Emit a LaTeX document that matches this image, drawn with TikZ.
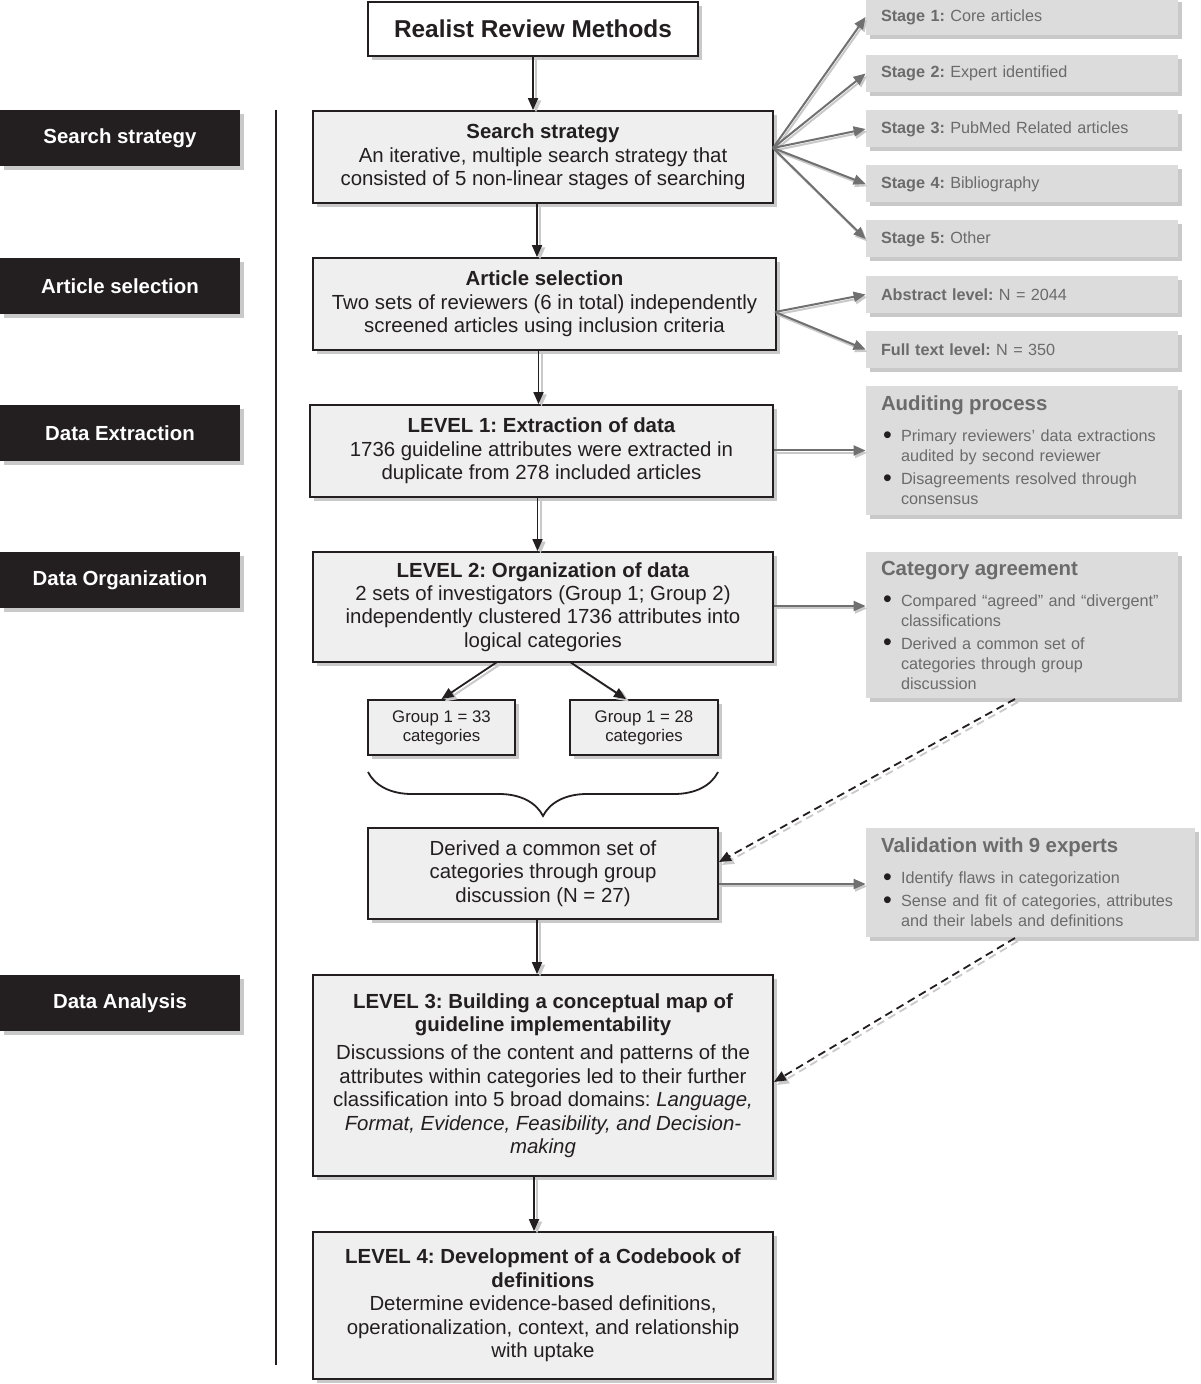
\documentclass[tikz,border=0pt]{standalone}
\usepackage{fontspec}
\setmainfont{Liberation Sans}
\usetikzlibrary{arrows.meta,shadows,decorations.pathreplacing}
\frenchspacing
\definecolor{ink}{HTML}{231F20}
\definecolor{boxfill}{HTML}{EFEFEF}
\definecolor{sidefill}{HTML}{DCDCDD}
\definecolor{sidetext}{HTML}{6B6B6B}
\definecolor{shade}{HTML}{C9C9C9}
\definecolor{arrowgray}{HTML}{707070}
\DeclareRobustCommand\nohyph{\hyphenpenalty=10000\relax}
\newcommand\bitem[1]{\par\hangindent=10pt\hangafter=1\hspace*{1pt}\makebox[9pt][l]{\textcolor{ink}{\fontsize{12.5}{10}\selectfont\raisebox{-0.6pt}{\textbullet}}}#1\par}
\tikzset{
  myshadow/.style={drop shadow={shadow xshift=2pt, shadow yshift=-2pt, fill=shade, opacity=1}},
  mainbox/.style={draw=ink, line width=0.9pt, fill=boxfill, align=center, text=ink,
    font=\fontsize{10.2}{11.7}\selectfont, inner sep=0pt, myshadow},
  sidebox/.style={fill=sidefill, text=sidetext, inner xsep=7.5pt, inner ysep=0pt,
    align=left, font=\fontsize{8.1}{10}\selectfont\nohyph, myshadow},
  labelbox/.style={fill=ink, text=white, font=\bfseries\fontsize{10.2}{11.7}\selectfont,
    minimum width=120pt, minimum height=28pt, inner sep=0pt, myshadow},
  flow/.style={-{Triangle[length=6pt,width=5pt]}, line width=0.9pt, draw=ink,
    preaction={draw=shade, line width=1pt, transform canvas={xshift=1.5pt,yshift=-1.2pt}}},
  sideflow/.style={-{Triangle[length=6pt,width=5pt]}, line width=1pt, draw=arrowgray,
    preaction={draw=shade, line width=1pt, transform canvas={xshift=0.8pt,yshift=-1.2pt}}},
  dashflow/.style={-{Triangle[length=6pt,width=5pt]}, line width=0.9pt, draw=ink,
    dash pattern=on 4pt off 2.5pt,
    preaction={draw=shade, line width=0.9pt, dash pattern=on 4pt off 2.5pt,
      transform canvas={xshift=1.5pt,yshift=-1.5pt}}},
}
\newcommand\sidehead[1]{{\bfseries\fontsize{10.2}{12}\selectfont #1}\par\vspace{5.5pt}}
\begin{document}
\begin{tikzpicture}[x=0.5pt,y=-0.5pt]
\useasboundingbox (0,0) rectangle (1200,1384);

% timeline
\draw[ink, line width=0.9pt] (276,110) -- (276,1365);

% left labels
\node[labelbox] (lsearch) at (120,138) {Search strategy};
\node[labelbox] (lart) at (120,286) {Article selection};
\node[labelbox] (lext) at (120,433) {Data Extraction};
\node[labelbox] (lorg) at (120,580) {Data Organization};
\node[labelbox] (lana) at (120,1003) {Data Analysis};

% main column
\node[mainbox, fill=white, minimum width=165pt, minimum height=27pt,
      font=\bfseries\fontsize{12.2}{14}\selectfont] (title) at (533,29) {Realist Review Methods};
\node[mainbox, minimum width=230pt, minimum height=46pt] (search) at (543,157)
  {\textbf{Search strategy}\\An iterative, multiple search strategy that\\consisted of 5 non-linear stages of searching};
\node[mainbox, minimum width=231.5pt, minimum height=46pt] (art) at (544.5,304)
  {\textbf{Article selection}\\Two sets of reviewers (6 in total) independently\\screened articles using inclusion criteria};
\node[mainbox, minimum width=231.5pt, minimum height=46pt] (lv1) at (541.5,451)
  {\textbf{LEVEL 1: Extraction of data}\\1736 guideline attributes were extracted in\\duplicate from 278 included articles};
\node[mainbox, minimum width=230pt, minimum height=55pt] (lv2) at (543,607)
  {\textbf{LEVEL 2: Organization of data}\\2 sets of investigators (Group 1; Group 2)\\independently clustered 1736 attributes into\\logical categories};
\node[mainbox, minimum width=73.5pt, minimum height=27.5pt, font=\fontsize{8.4}{9.6}\selectfont] (g1) at (441.5,727.5)
  {Group 1 = 33\\categories};
\node[mainbox, minimum width=74pt, minimum height=27.5pt, font=\fontsize{8.4}{9.6}\selectfont] (g2) at (644,727.5)
  {Group 1 = 28\\categories};
\node[mainbox, minimum width=175pt, minimum height=45.5pt] (der) at (543,873.5)
  {Derived a common set of\\categories through group\\discussion (N = 27)};
\node[mainbox, minimum width=230pt, minimum height=100.5pt] (lv3) at (543,1075.5)
  {\textbf{LEVEL 3: Building a conceptual map of}\\\textbf{guideline implementability}\\[2.5pt]Discussions of the content and patterns of the\\attributes within categories led to their further\\classification into 5 broad domains: \textit{Language,}\\\textit{Format, Evidence, Feasibility, and Decision-}\\\textit{making}};
\node[mainbox, minimum width=230pt, minimum height=73.5pt] (lv4) at (543,1305.5)
  {\textbf{LEVEL 4: Development of a Codebook of}\\\textbf{definitions}\\Determine evidence-based definitions,\\operationalization, context, and relationship\\with uptake};

% brace
\draw[ink, line width=0.9pt, decorate, decoration={brace, amplitude=22pt, aspect=0.5}]
  (718,772) -- (368,772);

% right column
\node[sidebox, text width=141pt, minimum height=18.5pt] (s1) at (1022,17) {\textbf{Stage 1:} Core articles};
\node[sidebox, text width=141pt, minimum height=18.5pt] (s2) at (1022,73.5) {\textbf{Stage 2:} Expert identified};
\node[sidebox, text width=141pt, minimum height=18.5pt] (s3) at (1022,129) {\textbf{Stage 3:} PubMed Related articles};
\node[sidebox, text width=141pt, minimum height=18.5pt] (s4) at (1022,184) {\textbf{Stage 4:} Bibliography};
\node[sidebox, text width=141pt, minimum height=18.5pt] (s5) at (1022,239) {\textbf{Stage 5:} Other};
\node[sidebox, text width=141pt, minimum height=18.5pt] (abs) at (1022,294.5) {\textbf{Abstract level:} N = 2044};
\node[sidebox, text width=141pt, minimum height=18.5pt] (full) at (1022,349.5) {\textbf{Full text level:} N = 350};
\node[sidebox, text width=141pt, minimum height=64.5pt] (aud) at (1022,450.5)
  {\sidehead{Auditing process}%
   \bitem{Primary reviewers' data extractions audited by second reviewer}\vspace{1.5pt}%
   \bitem{Disagreements resolved through consensus}};
\node[sidebox, text width=141pt, minimum height=73pt] (cat) at (1022,625)
  {\sidehead{Category agreement}%
   \bitem{Compared “agreed” and “divergent” classifications}\vspace{1.5pt}%
   \bitem{Derived a common set of categories through group discussion}};
\node[sidebox, text width=149.5pt, minimum height=54.5pt] (val) at (1030.5,882.5)
  {\sidehead{Validation with 9 experts}%
   \bitem{Identify flaws in categorization}\vspace{1.5pt}%
   \bitem{Sense and fit of categories, attributes and their labels and definitions}};

% main flow arrows
\draw[flow] (title.south) -- (title.south |- search.north);
\draw[flow] ([xshift=-3pt]search.south) -- ([xshift=-3pt]search.south |- art.north);
\draw[flow] ([xshift=-3pt]art.south) -- ([xshift=-3pt]art.south |- lv1.north);
\draw[flow] ([xshift=-2pt]lv1.south) -- ([xshift=-2pt]lv1.south |- lv2.north);
\coordinate (l2a) at (497,662);
\coordinate (l2b) at (570,662);
\draw[flow] (l2a) -- (g1.north);
\draw[flow] (l2b) -- ([xshift=-9pt]g2.north);
\draw[flow] ([xshift=-3pt]der.south) -- ([xshift=-3pt]der.south |- lv3.north);
\draw[flow] ([xshift=-4.5pt]lv3.south) -- ([xshift=-4.5pt]lv3.south |- lv4.north);

% side arrows
\coordinate (so) at (773,148);
\foreach \t in {s1,s2,s3,s4,s5} \draw[sideflow] (so) -- (\t.west);
\coordinate (ao) at (775,312);
\draw[sideflow] (ao) -- (abs.west);
\draw[sideflow] (ao) -- (full.west);
\draw[sideflow] (lv1.east |- aud.west) -- (aud.west);
\draw[sideflow] (lv2.east |- 0,606) -- (cat.west |- 0,606);
\draw[sideflow] (der.east |- 0,884) -- (val.west |- 0,884);

% dashed feedback arrows
\draw[dashflow] (1015,699) -- (der.east |- 0,862);
\draw[dashflow] (1015,938) -- (lv3.east |- 0,1082);
\end{tikzpicture}
\end{document}
